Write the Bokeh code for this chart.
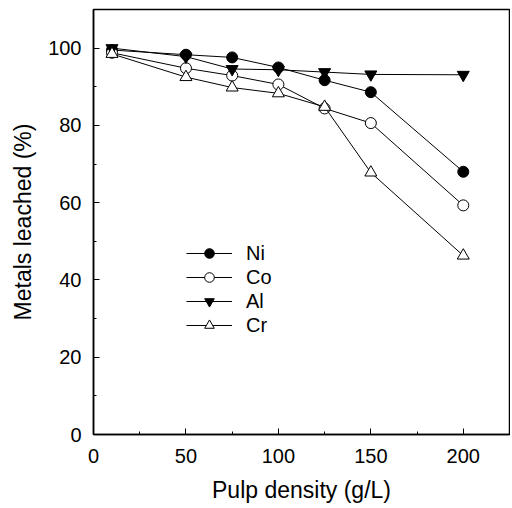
from bokeh.plotting import figure
from bokeh.models import Range1d, FixedTicker
from bokeh.embed import file_html
from bokeh.resources import INLINE

# Data
pulp_density = [10, 50, 75, 100, 125, 150, 200]
ni = [99.5, 98.3, 97.6, 95.0, 91.7, 88.6, 68.0]
co = [98.8, 94.8, 92.9, 90.6, 84.4, 80.6, 59.3]
al = [100.0, 97.8, 94.6, 94.4, 93.8, 93.2, 93.1]
cr = [98.5, 92.5, 89.8, 88.3, 84.8, 67.8, 46.3]
x_ticks = [0, 50, 100, 150, 200]
y_ticks = [0, 20, 40, 60, 80, 100]

FONT = "Liberation Sans"

p = figure(width=510, height=506, output_backend="svg", toolbar_location=None,
           x_range=Range1d(0, 225), y_range=Range1d(0, 110),
           min_border_left=93, min_border_right=1, min_border_top=9, min_border_bottom=72)
p.grid.visible = False
p.background_fill_color = "white"
p.border_fill_color = "white"
p.outline_line_color = "black"
p.outline_line_width = 1.5

series = [("Ni", ni, "circle", "black"),
          ("Co", co, "circle", "white"),
          ("Al", al, "inverted_triangle", "black"),
          ("Cr", cr, "triangle", "white")]
for name, ys, marker, fill in series:
    p.line(pulp_density, ys, line_color="black", line_width=1, legend_label=name)
    size = 11 if marker == "circle" else 12
    p.scatter(pulp_density, ys, marker=marker, size=size, fill_color=fill,
              line_color="black", line_width=1, legend_label=name)

for ax in (p.xaxis[0], p.yaxis[0]):
    ax.axis_line_color = "black"
    ax.axis_line_width = 1.5
    ax.major_tick_in = 6
    ax.major_tick_out = 0
    ax.minor_tick_in = 3
    ax.minor_tick_out = 0
    ax.major_tick_line_color = "black"
    ax.minor_tick_line_color = "black"
    ax.major_label_text_font = FONT
    ax.major_label_text_font_size = "20px"
    ax.major_label_text_color = "black"
    ax.axis_label_text_font = FONT
    ax.axis_label_text_font_size = "23px"
    ax.axis_label_text_font_style = "normal"
    ax.axis_label_text_color = "black"

p.xaxis.ticker = FixedTicker(ticks=x_ticks, minor_ticks=[25, 75, 125, 175])
p.yaxis.ticker = FixedTicker(ticks=y_ticks, minor_ticks=[10, 30, 50, 70, 90])
p.xaxis.axis_label = "Pulp density (g/L)"
p.yaxis.axis_label = "Metals leached (%)"
p.xaxis.major_label_standoff = 14
p.xaxis.axis_label_standoff = 11
p.yaxis.major_label_standoff = 12
p.yaxis.axis_label_standoff = 9

lg = p.legend[0]
lg.location = (93, 97)
lg.background_fill_alpha = 0
lg.border_line_alpha = 0
lg.padding = 0
lg.margin = 0
lg.spacing = 0
lg.glyph_width = 46
lg.glyph_height = 24
lg.label_height = 24
lg.label_standoff = 14
lg.label_text_font = FONT
lg.label_text_font_size = "20px"
lg.label_text_color = "black"

open("out.html", "w").write(file_html(p, INLINE))
